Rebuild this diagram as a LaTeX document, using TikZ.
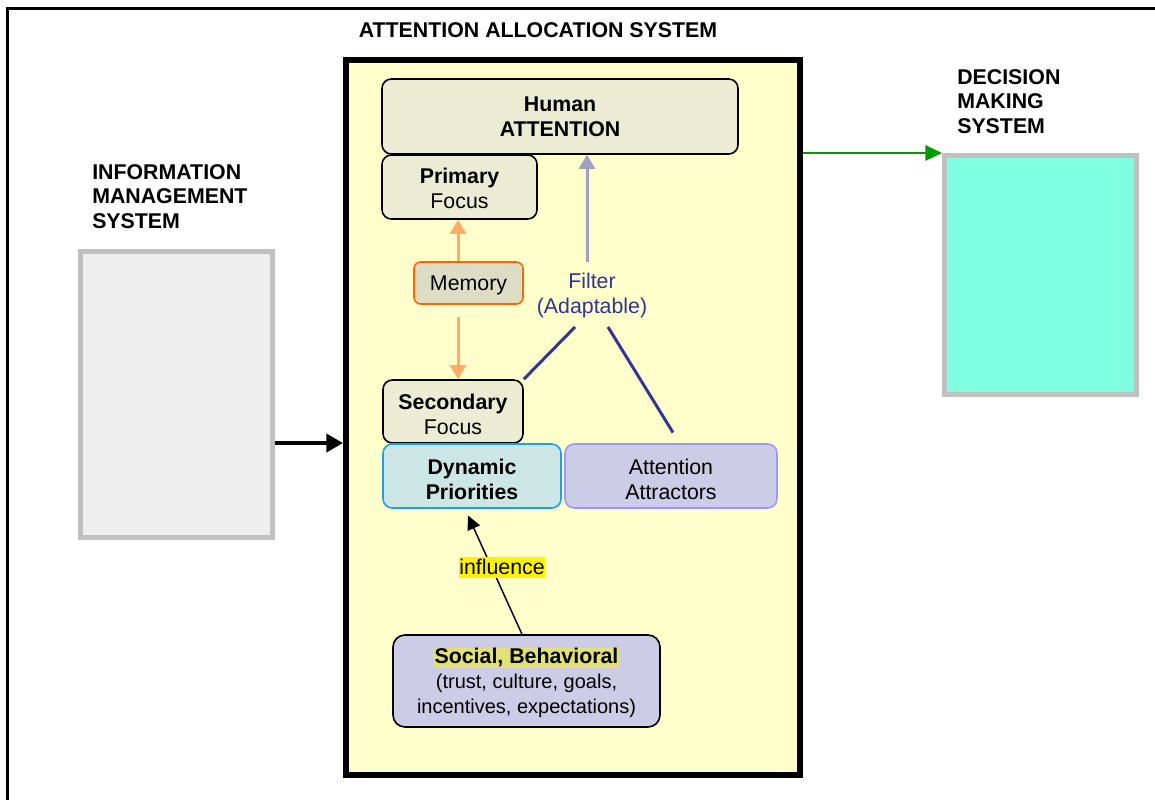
\documentclass[tikz,border=0pt]{standalone}
\usepackage{fontspec}
\setmainfont{Liberation Sans}
\usetikzlibrary{arrows.meta}

\definecolor{allocyellow}{RGB}{255,255,204}
\definecolor{focusfill}{RGB}{236,236,212}
\definecolor{memfill}{RGB}{221,221,198}
\definecolor{memline}{RGB}{255,102,0}
\definecolor{dynfill}{RGB}{204,230,230}
\definecolor{dynline}{RGB}{30,160,230}
\definecolor{lilac}{RGB}{204,204,230}
\definecolor{lilacline}{RGB}{153,153,255}
\definecolor{softorange}{RGB}{255,172,100}
\definecolor{filtergray}{RGB}{160,160,192}
\definecolor{navy}{RGB}{51,51,153}
\definecolor{darkgreen}{RGB}{0,153,0}
\definecolor{imsfill}{RGB}{238,238,238}
\definecolor{sysline}{RGB}{192,192,192}
\definecolor{dmsfill}{RGB}{128,255,224}
\definecolor{socmark}{RGB}{225,225,120}

\newcommand{\lowstrut}[1]{\rule{0pt}{#1}}

\tikzset{
  txt/.style={font=\fontsize{16}{18.75}\selectfont, align=center},
  systitle/.style={font=\fontsize{16}{18.5}\selectfont\bfseries, inner sep=0pt},
  roundbox/.style={txt, draw, line width=1.2pt, rounded corners=7pt, inner sep=0pt},
  focusbox/.style={roundbox, fill=focusfill},
  sysbox/.style={draw=sysline, line width=3.75pt, inner sep=0pt},
  orangearr/.style={draw=softorange, line width=2.25pt, -{Triangle[length=10.5pt,width=12pt]}},
}

\begin{document}
\begin{tikzpicture}[x=0.75pt,y=-0.75pt]
\useasboundingbox (0,0) rectangle (1155,799);
\fill[white] (0,0) rectangle (1155,799);
\draw[line width=2.25pt] (7,810) -- (7,9) -- (1165,9);

% titles
\node[systitle] (alloctitle) at (538,30) {ATTENTION ALLOCATION SYSTEM};
\node[systitle, anchor=north west, align=left] (imstitle) at (92,164) {INFORMATION\\MANAGEMENT\\SYSTEM};
\node[systitle, anchor=north west, align=left] (dmstitle) at (957,69) {DECISION\\MAKING\\SYSTEM};

% the three systems
\node[draw, line width=4.5pt, fill=allocyellow, minimum width=340.5pt, minimum height=536.25pt, inner sep=0pt] (alloc) at (573,417.5) {};
\node[sysbox, fill=imsfill, minimum width=144pt, minimum height=214.5pt] (ims) at (176.5,394.5) {};
\node[sysbox, fill=dmsfill, minimum width=144pt, minimum height=179.25pt] (dms) at (1040.5,275) {};

% inside the allocation system
\node[focusbox, minimum width=267pt, minimum height=56.25pt] (attn) at (560,116.5) {\textbf{Human}\\\textbf{ATTENTION}};
\node[focusbox, minimum width=116.25pt, minimum height=48pt] (prim) at (459.5,187) {\lowstrut{13.5pt}\textbf{Primary}\\Focus};
\node[roundbox, draw=memline, fill=memfill, rounded corners=5pt, minimum width=81.75pt, minimum height=31.5pt] (mem) at (468.5,283) {\lowstrut{14pt}Memory};
\node[focusbox, minimum width=105pt, minimum height=47.25pt] (sec) at (453,411.5) {\lowstrut{16pt}\textbf{Secondary}\\Focus};
\node[roundbox, draw=dynline, fill=dynfill, minimum width=133.5pt, minimum height=48pt] (dyn) at (472,476) {\lowstrut{16pt}\textbf{Dynamic}\\\textbf{Priorities}};
\node[roundbox, draw=lilacline, fill=lilac, minimum width=159pt, minimum height=48pt] (attr) at (671,476) {\lowstrut{16pt}Attention\\Attractors};
\node[roundbox, fill=lilac, rounded corners=9pt, minimum width=200.25pt, minimum height=69pt] (soc) at (526.5,681)
  {\lowstrut{15pt}{\setlength{\fboxsep}{0.6pt}\colorbox{socmark}{\textbf{Social, Behavioral}}}\\{\fontsize{15}{18.5}\selectfont (trust, culture, goals,}\\{\fontsize{15}{18.5}\selectfont incentives, expectations)}};
\node[txt, text=navy, inner sep=0pt] (filt) at (592,295) {Filter\\(Adaptable)};

\coordinate (gstart) at (587,262);
\coordinate (fleft) at (575,327);
\coordinate (fright) at (608,327);

\draw[orangearr] (mem.north -| 458,0) -- (prim.south -| 458,0);
\draw[orangearr, shorten <=9pt] (mem.south -| 458,0) -- (sec.north -| 458,0);
\draw[draw=filtergray, line width=2.25pt, -{Triangle[length=10.5pt,width=12pt]}] (gstart) -- (gstart |- attn.south);
\draw[navy, line width=2.25pt] (fleft) -- (sec.north east);
\draw[navy, line width=2.25pt] (fright) -- ([xshift=1.5pt,yshift=8pt]attr.north);

\draw[line width=1.1pt, -{Triangle[length=10.5pt,width=10pt]}] ([xshift=-3.4pt]soc.north) -- ([xshift=-3pt,yshift=-5pt]dyn.south);
\node[txt, fill=yellow, inner xsep=0.5pt, inner ysep=2pt] (infl) at (502,567) {influence};

% flows between systems
\coordinate (imsout) at ([yshift=-36.4pt]ims.east);
\draw[line width=3pt, -{Triangle[length=12.5pt,width=13.5pt]}] (imsout) -- (imsout -| alloc.west);
\draw[darkgreen, line width=1.5pt, -{Triangle[length=12.5pt,width=11.5pt]}] (dms.north west -| alloc.east) -- (dms.north west);
\end{tikzpicture}
\end{document}
